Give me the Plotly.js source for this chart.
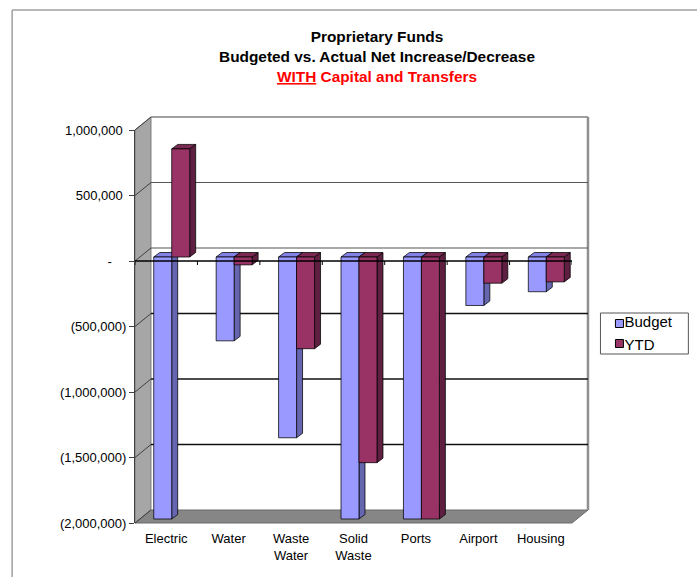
<!DOCTYPE html>
<html><head><meta charset="utf-8">
<script src="https://cdn.plot.ly/plotly-3.0.1.min.js"></script>
<style>html,body{margin:0;padding:0;background:#fff}#chart{width:697px;height:577px}</style>
</head><body><div id="chart"></div>
<script>
// ---- data ----
const categories = ['Electric','Water','Waste<br>Water','Solid<br>Waste','Ports','Airport','Housing'];
const budget = [-2000000,-640000,-1380000,-2000000,-2000000,-370000,-265000];
const ytd = [825000,-60000,-700000,-1570000,-2000000,-200000,-190000];
const seriesNames = ['Budget','YTD'];
const tickVals = [1000000,500000,0,-500000,-1000000,-1500000,-2000000];
const tickText = ['1,000,000\u00a0','500,000\u00a0','-\u00a0\u00a0\u00a0\u00a0','(500,000)','(1,000,000)','(1,500,000)','(2,000,000)'];

// ---- geometry ----
const W=697,H=577,L=135,R=124.5,T=130,B=54;
const PW=W-L-R, PH=H-T-B;
const yMin=-2000000, yMax=1000000;
const xMin=-0.5, xMax=categories.length-0.5;
const px=p=>(p-L)/PW, py=p=>1-(p-T)/PH;
const yPix=v=>T+(yMax-v)/(yMax-yMin)*PH;
const unitX=PW/(xMax-xMin), unitY=PH/(yMax-yMin);
const DX=16, DY=13;
const barW=18/unitX, shiftX=5.5/unitX, baseShift=4/unitY;
const sdx=6/unitX, sdy=4.5/unitY;
const FONT='Liberation Sans, Arial, sans-serif';

const faceCol=['#9999FF','#993366'];
const sideCol=['#6666B0','#5E1F40'];
const topCol=['#8282E6','#7A2952'];

const shapes=[];
// outer border (top & left)
shapes.push({type:'line',xref:'paper',yref:'paper',x0:px(12),x1:px(700),y0:py(10),y1:py(10),line:{color:'#a0a0a0',width:1.5},layer:'below'});
shapes.push({type:'line',xref:'paper',yref:'paper',x0:px(12),x1:px(12),y0:py(10),y1:py(580),line:{color:'#a0a0a0',width:1.5},layer:'below'});
// left wall
shapes.push({type:'path',xref:'paper',yref:'paper',layer:'below',
  path:`M${px(L)},${py(T)} L${px(L+DX)},${py(T-DY)} L${px(L+DX)},${py(T+PH-DY)} L${px(L)},${py(T+PH)} Z`,
  fillcolor:'#a6a6a6',line:{color:'#7a7a7a',width:1}});
// floor
shapes.push({type:'path',xref:'paper',yref:'paper',layer:'below',
  path:`M${px(L)},${py(T+PH)} L${px(L+DX)},${py(T+PH-DY)} L${px(L+PW+DX)},${py(T+PH-DY)} L${px(L+PW)},${py(T+PH)} Z`,
  fillcolor:'#868686',line:{color:'#6a6a6a',width:1}});
// back plane edges
shapes.push({type:'line',xref:'paper',yref:'paper',layer:'below',x0:px(L+DX),x1:px(L+PW+DX),y0:py(T-DY),y1:py(T-DY),line:{color:'#808080',width:1.5}});
shapes.push({type:'line',xref:'paper',yref:'paper',layer:'below',x0:px(L+PW+DX),x1:px(L+PW+DX),y0:py(T-DY),y1:py(T+PH-DY),line:{color:'#909090',width:2.5}});
// back gridlines and wall diagonals
tickVals.forEach(v=>{
  const yf=yPix(v), yb=yf-DY;
  if(v<yMax && v>yMin){
    const upper = v>=0;
    shapes.push({type:'line',xref:'paper',yref:'paper',layer:'below',x0:px(L+DX),x1:px(L+PW+DX),y0:py(yb),y1:py(yb),
      line:{color:upper?'#555':'#111',width:upper?1:1.3}});
  }
  shapes.push({type:'line',xref:'paper',yref:'paper',layer:'below',x0:px(L),x1:px(L+DX),y0:py(yf),y1:py(yb),line:{color:'#404040',width:1}});
});
// bar side and top faces (3D look), from data
[budget,ytd].forEach((vals,s)=>{
  vals.forEach((v,i)=>{
    const xl=i+shiftX+(s===0?-barW:0), xr=xl+barW;
    const b=baseShift, e=baseShift+v;
    const top=Math.max(b,e), bot=Math.min(b,e);
    shapes.push({type:'path',xref:'x',yref:'y',layer:'below',
      path:`M${xr},${bot} L${xr},${top} L${xr+sdx},${top+sdy} L${xr+sdx},${bot+sdy} Z`,
      fillcolor:sideCol[s],line:{color:'#000',width:0.75}});
    shapes.push({type:'path',xref:'x',yref:'y',layer:'below',
      path:`M${xl},${top} L${xr},${top} L${xr+sdx},${top+sdy} L${xl+sdx},${top+sdy} Z`,
      fillcolor:topCol[s],line:{color:'#000',width:0.75}});
  });
});
// front zero (category) axis with boundary ticks
shapes.push({type:'line',xref:'paper',yref:'y',layer:'above',x0:0,x1:1,y0:0,y1:0,line:{color:'#000',width:1.5}});
for(let k=0;k<=categories.length;k++){
  shapes.push({type:'line',xref:'x',yref:'paper',layer:'above',x0:k-0.5,x1:k-0.5,y0:py(yPix(0)),y1:py(yPix(0)+4),line:{color:'#000',width:1}});
}
// legend frame and key squares
const LG={l:601,r:689,t:313,b:354,keyX:616,keyS:8,rowY:[323.5,343.5]};
shapes.push({type:'rect',xref:'paper',yref:'paper',layer:'below',x0:px(LG.l),x1:px(LG.r),y0:py(LG.t),y1:py(LG.b),line:{color:'#555',width:1},fillcolor:'#fff'});
seriesNames.forEach((n,s)=>{
  const cy=LG.rowY[s];
  shapes.push({type:'rect',xref:'paper',yref:'paper',layer:'above',x0:px(LG.keyX),x1:px(LG.keyX+LG.keyS),y0:py(cy-LG.keyS/2),y1:py(cy+LG.keyS/2),
    line:{color:'#000',width:1},fillcolor:faceCol[s]});
});

const idx=categories.map((c,i)=>i);
const traces=[
  {type:'bar',x:idx,y:budget,base:baseShift,width:barW,offset:shiftX-barW,name:seriesNames[0],showlegend:false,
   marker:{color:faceCol[0],line:{color:'#000',width:0.75}},hoverinfo:'skip'},
  {type:'bar',x:idx,y:ytd,base:baseShift,width:barW,offset:shiftX,name:seriesNames[1],showlegend:false,
   marker:{color:faceCol[1],line:{color:'#000',width:0.75}},hoverinfo:'skip'},
  {type:'scatter',mode:'markers',x:[null],y:[null],name:seriesNames[0],marker:{symbol:'square',size:8,color:'rgba(0,0,0,0)',line:{width:0}}},
  {type:'scatter',mode:'markers',x:[null],y:[null],name:seriesNames[1],marker:{symbol:'square',size:8,color:'rgba(0,0,0,0)',line:{width:0}}}
];

const layout={
  width:W,height:H,margin:{l:L,r:R,t:T,b:B},
  paper_bgcolor:'#fff',plot_bgcolor:'rgba(0,0,0,0)',
  font:{family:FONT,size:13,color:'#000'},
  title:{text:'<b>Proprietary Funds<br>Budgeted vs. Actual Net Increase/Decrease<br><span style="color:#ff0000"><u>WITH</u> Capital and Transfers</span></b>',
    font:{family:FONT,size:15.4,color:'#000'},x:377/W,xanchor:'center',y:1-42/H,yanchor:'top'},
  xaxis:{range:[xMin,xMax],tickmode:'array',tickvals:idx,ticktext:categories,showgrid:false,zeroline:false,showline:false,ticks:'',
    ticklabelstandoff:6,tickfont:{family:FONT,size:13,color:'#000'},fixedrange:true},
  yaxis:{range:[yMin,yMax],tickmode:'array',tickvals:tickVals,ticktext:tickText,showgrid:false,zeroline:false,showline:true,linecolor:'#404040',linewidth:1,
    ticks:'outside',ticklen:5,tickcolor:'#404040',tickfont:{family:FONT,size:13,color:'#000'},fixedrange:true},
  showlegend:true,
  legend:{x:px(585),y:py(305),xanchor:'left',yanchor:'top',borderwidth:0,bgcolor:'rgba(0,0,0,0)',
    font:{family:FONT,size:15,color:'#000'},itemwidth:30,tracegroupgap:0},
  shapes:shapes,bargap:0
};
Plotly.newPlot('chart',traces,layout,{displayModeBar:false,staticPlot:true});
</script></body></html>
